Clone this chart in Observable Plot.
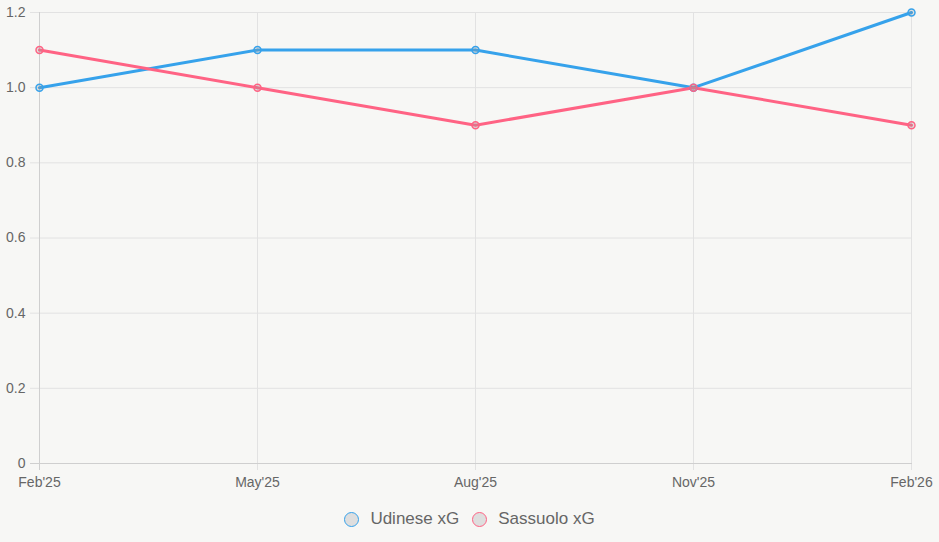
<!DOCTYPE html>
<html><head><meta charset="utf-8">
<script src="https://cdn.jsdelivr.net/npm/d3@7"></script>
<script src="https://cdn.jsdelivr.net/npm/@observablehq/plot@0.6"></script>
<style>
html,body{margin:0;padding:0;background:#f7f7f5;}
body{width:939px;height:542px;overflow:hidden;font-family:"Liberation Sans",Arial,sans-serif;}
#legend{display:flex;justify-content:center;align-items:center;gap:13px;margin-top:17px;font-size:17px;color:#666;}
#legend span.item{display:flex;align-items:center;}
#legend span.dot{display:inline-block;width:15px;height:15px;border-radius:50%;background:#dedede;border:1.5px solid;margin-right:11px;box-sizing:border-box;}
</style></head>
<body><div id="chart"></div><div id="legend"></div>
<script>
const months = ["Feb'25","May'25","Aug'25","Nov'25","Feb'26"];
const udinese = [1.0, 1.1, 1.1, 1.0, 1.2];
const sassuolo = [1.1, 1.0, 0.9, 1.0, 0.9];
const yTicks = [0, 0.2, 0.4, 0.6, 0.8, 1.0, 1.2];
const seriesNames = ["Udinese xG", "Sassuolo xG"];
const colors = ["#36a2eb", "#ff6384"];

const data = [];
months.forEach((m, i) => {
  data.push({month: m, value: udinese[i], series: seriesNames[0]});
  data.push({month: m, value: sassuolo[i], series: seriesNames[1]});
});

const plot = Plot.plot({
  width: 939, height: 492,
  marginLeft: 38, marginRight: 27, marginTop: 12, marginBottom: 29,
  style: {background: "transparent", fontFamily: "Liberation Sans, Arial, sans-serif", fontSize: "14px", color: "#666"},
  x: {type: "point", domain: months, padding: 0},
  y: {domain: [0, 1.2]},
  color: {domain: seriesNames, range: colors},
  marks: [
    Plot.ruleY(yTicks, {stroke: "#e2e2e2", strokeWidth: 1, insetLeft: -8}),
    Plot.ruleX(months, {stroke: "#e2e2e2", strokeWidth: 1, insetBottom: -7}),
    Plot.ruleY([0], {stroke: "#cfcfcf", strokeWidth: 1, insetLeft: -8}),
    Plot.ruleX([months[0]], {stroke: "#cfcfcf", strokeWidth: 1, insetBottom: -7}),
    Plot.axisY({ticks: yTicks, tickSize: 0, tickPadding: 13, tickFormat: d => d === 0 ? "0" : d.toFixed(1), label: null, fill: "#666", fontSize: 14}),
    Plot.axisX({tickSize: 0, tickPadding: 14, label: null, fill: "#666", fontSize: 14}),
    Plot.line(data, {x: "month", y: "value", z: "series", stroke: "series", strokeWidth: 3, curve: "linear"}),
    Plot.dot(data, {x: "month", y: "value", stroke: "series", fill: "#999", fillOpacity: 0.25, r: 3.5, strokeWidth: 1.5})
  ]
});
document.getElementById("chart").appendChild(plot);

const legend = document.getElementById("legend");
seriesNames.forEach((s, i) => {
  const item = document.createElement("span");
  item.className = "item";
  const dot = document.createElement("span");
  dot.className = "dot";
  dot.style.borderColor = colors[i];
  item.appendChild(dot);
  item.appendChild(document.createTextNode(s));
  legend.appendChild(item);
});
</script>
</body></html>
